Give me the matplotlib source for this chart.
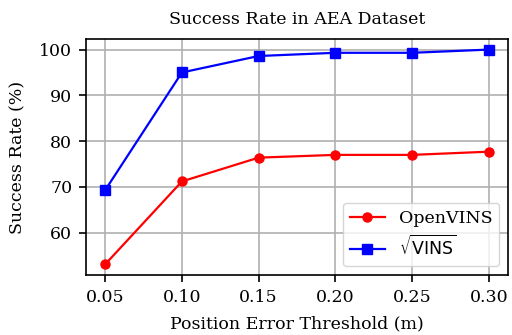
import matplotlib
matplotlib.use('Agg')
import matplotlib.pyplot as plt

# data
thresholds = [0.05, 0.10, 0.15, 0.20, 0.25, 0.30]
openvins = [53.1, 71.2, 76.4, 77.0, 77.0, 77.7]
sqrtvins = [69.3, 95.0, 98.6, 99.3, 99.3, 100.0]
xticks = ['0.05', '0.10', '0.15', '0.20', '0.25', '0.30']

plt.rcParams['font.family'] = 'DejaVu Serif'
plt.rcParams['font.size'] = 12.5

fig, ax = plt.subplots(figsize=(5.12, 3.35), dpi=100)
ax.plot(thresholds, openvins, 'r-o', label='OpenVINS', markersize=6.5, linewidth=1.6)
ax.plot(thresholds, sqrtvins, 'b-s', label=r'$\sqrt{\rm VINS}$', markersize=6.5, linewidth=1.6)
ax.set_xticks(thresholds)
ax.set_xticklabels(xticks)
ax.set_xlabel('Position Error Threshold (m)', labelpad=7)
ax.set_ylabel('Success Rate (%)', labelpad=9)
ax.set_title('Success Rate in AEA Dataset', fontsize=12.5, pad=11)
ax.grid(True, linewidth=1.2)
ax.tick_params(width=1.2, length=5, pad=5)
for s in ax.spines.values():
    s.set_linewidth(1.2)
ax.legend(loc='lower right')

plt.subplots_adjust(left=0.168, right=0.992, top=0.884, bottom=0.179)
plt.savefig('out.png')
